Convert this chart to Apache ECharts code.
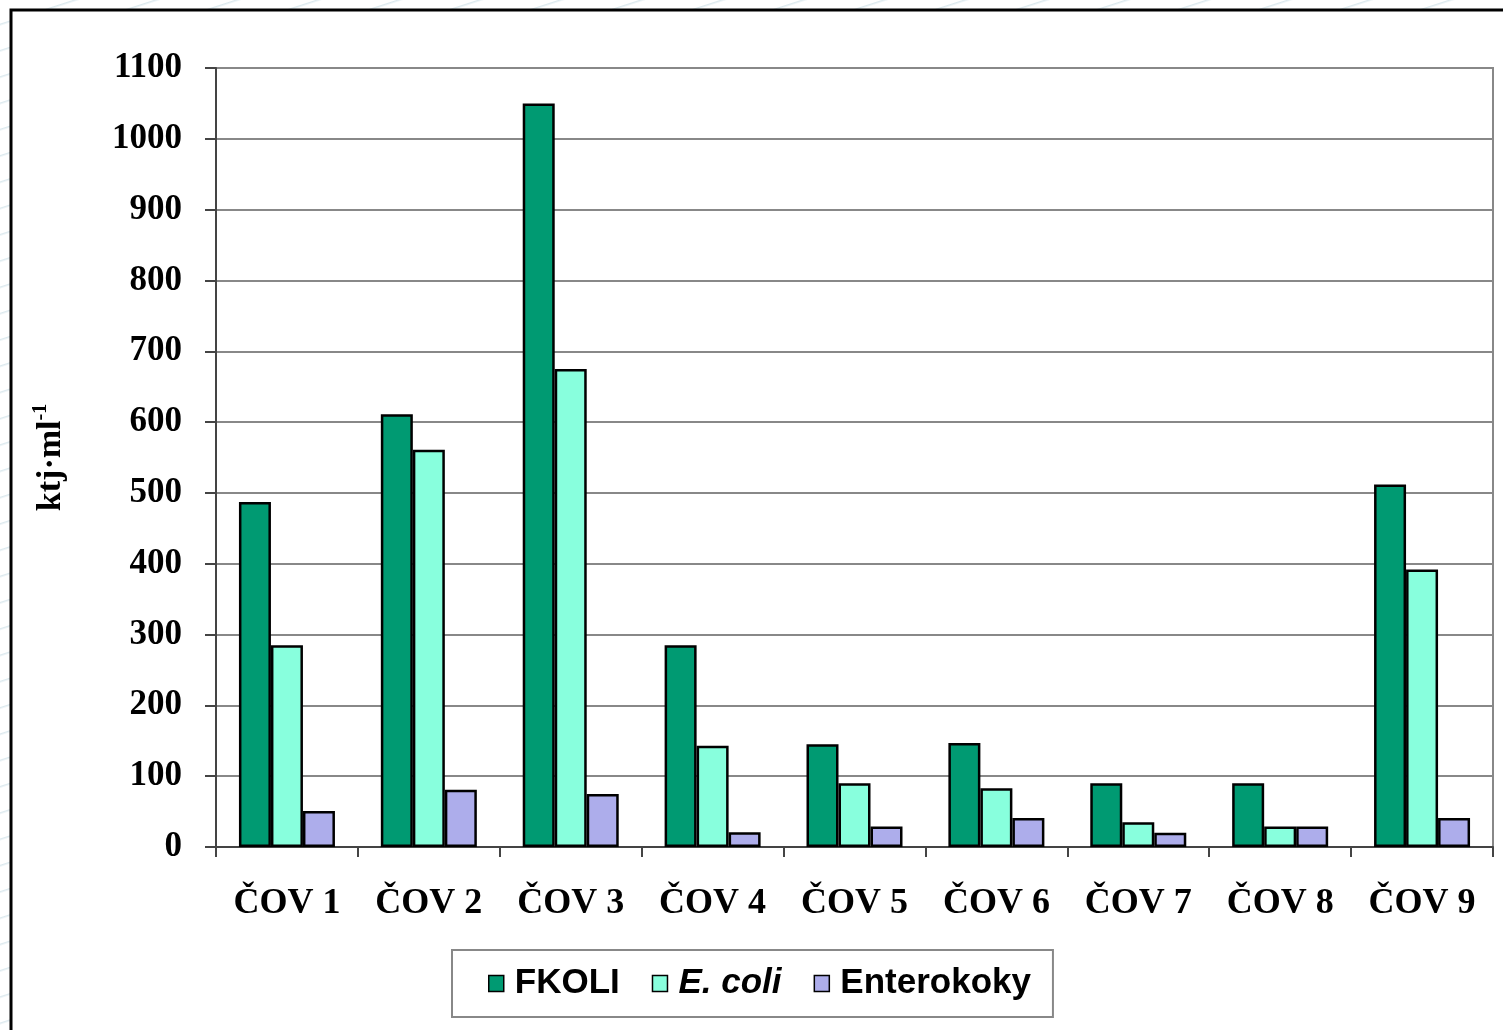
<!DOCTYPE html>
<html>
<head>
<meta charset="utf-8">
<script src="https://cdn.jsdelivr.net/npm/echarts@6/dist/echarts.min.js"></script>
<style>
html, body { margin: 0; padding: 0; width: 1503px; height: 1030px; overflow: hidden; }
body { background: #ffffff repeating-linear-gradient(162deg, #ffffff 0px, #ffffff 22px, #dce9ee 23px, #ffffff 25px); }
#chart { position: absolute; left: 0; top: 0; width: 1503px; height: 1030px; }
</style>
</head>
<body>
<div id="chart"></div>
<script>
const categories = ['ČOV 1', 'ČOV 2', 'ČOV 3', 'ČOV 4', 'ČOV 5', 'ČOV 6', 'ČOV 7', 'ČOV 8', 'ČOV 9'];
const seriesNames = ['FKOLI', 'E. coli', 'Enterokoky'];
const fkoli = [487, 611, 1050, 285, 145, 147, 90, 90, 512];
const ecoli = [285, 561, 675, 143, 90, 83, 35, 29, 392];
const enterokoky = [51, 81, 75, 21, 29, 41, 20, 29, 41];
const colors = ['#009A72', '#88FFDD', '#ADADEB'];

const chart = echarts.init(document.getElementById('chart'), null, { renderer: 'canvas' });
const serif = 'Liberation Serif';
const sans = 'Liberation Sans';

function bar(name, data, color) {
  return {
    name: name,
    type: 'bar',
    data: data,
    barWidth: 32,
    barGap: '0%',
    itemStyle: { color: color, borderColor: '#000', borderWidth: 2.5 },
    emphasis: { disabled: true }
  };
}

chart.setOption({
  animation: false,
  backgroundColor: 'transparent',
  graphic: [{
    type: 'rect', z: -10, silent: true,
    shape: { x: 11, y: 10, width: 1510, height: 1040 },
    style: { fill: '#ffffff', stroke: '#000', lineWidth: 3 }
  }],
  grid: { left: 216, right: 10, top: 68, bottom: 183, show: true, borderColor: '#888', borderWidth: 2, backgroundColor: 'transparent' },
  legend: {
    left: 452, top: 950,
    padding: [16, 22, 16, 36],
    itemGap: 32,
    itemWidth: 15, itemHeight: 16,
    icon: 'rect',
    borderColor: '#888', borderWidth: 2,
    backgroundColor: '#fff',
    itemStyle: { borderColor: '#000', borderWidth: 1.5 },
    formatter: function (n) { return n === 'E. coli' ? '{i|' + n + '}' : '{b|' + n + '}'; },
    textStyle: {
      rich: {
        b: { fontFamily: sans, fontWeight: 'bold', fontSize: 35, color: '#000', padding: [0, 0, 0, 6] },
        i: { fontFamily: sans, fontWeight: 'bold', fontStyle: 'italic', fontSize: 35, color: '#000', padding: [0, 0, 0, 6] }
      }
    },
    data: seriesNames
  },
  xAxis: {
    type: 'category',
    data: categories,
    axisLine: { lineStyle: { color: '#444', width: 2 } },
    axisTick: { show: true, length: 10, lineStyle: { color: '#444', width: 2 } },
    axisLabel: { fontFamily: serif, fontWeight: 'bold', fontSize: 36, color: '#000', margin: 39 }
  },
  yAxis: {
    type: 'value',
    min: 0, max: 1100, interval: 100,
    name: '{a|ktj·ml}{s|-1}',
    nameLocation: 'middle',
    nameRotate: 90,
    nameGap: 145,
    nameTextStyle: {
      rich: {
        a: { fontFamily: serif, fontWeight: 'bold', fontSize: 34, color: '#000', lineHeight: 40 },
        s: { fontFamily: serif, fontWeight: 'bold', fontSize: 20, color: '#000', verticalAlign: 'top', lineHeight: 40 }
      }
    },
    axisLine: { show: true, lineStyle: { color: '#444', width: 2 } },
    axisTick: { show: true, length: 11, lineStyle: { color: '#444', width: 2 } },
    splitLine: { lineStyle: { color: '#888', width: 2 } },
    axisLabel: { fontFamily: serif, fontWeight: 'bold', fontSize: 35, color: '#000', margin: 34, formatter: function (v) { return String(v); } }
  },
  series: [
    bar(seriesNames[0], fkoli, colors[0]),
    bar(seriesNames[1], ecoli, colors[1]),
    bar(seriesNames[2], enterokoky, colors[2])
  ]
});
</script>
</body>
</html>
